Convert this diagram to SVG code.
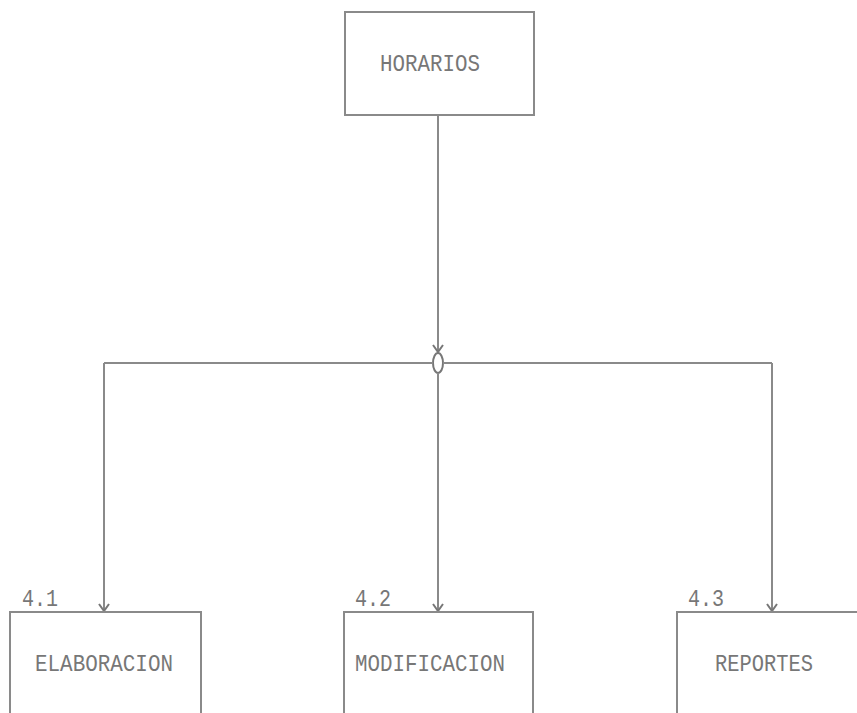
<svg xmlns="http://www.w3.org/2000/svg" width="857" height="713" viewBox="0 0 857 713">
<style>
.box{fill:none;stroke:#8a8a8a;stroke-width:2}
.ln{fill:none;stroke:#8a8a8a;stroke-width:2}
.t{font-family:"Liberation Mono","DejaVu Sans Mono",monospace;font-size:23px;fill:#777777}
</style>
<defs>
<marker id="arr" markerWidth="12" markerHeight="12" refX="10" refY="6" orient="auto" markerUnits="userSpaceOnUse" viewBox="0 0 12 12">
<path d="M3,1 L10,6 L3,11" fill="none" stroke="#777777" stroke-width="2"/>
</marker>
</defs>
<rect width="857" height="713" fill="#fff"/>
<g id="horarios">
<rect class="box" x="345" y="12" width="189" height="103"/>
<text class="t" x="380" y="71" textLength="100" lengthAdjust="spacingAndGlyphs">HORARIOS</text>
</g>
<g id="connectors">
<line class="ln" x1="438" y1="115" x2="438" y2="352" marker-end="url(#arr)"/>
<ellipse cx="438" cy="363" rx="5" ry="10" fill="#fff" stroke="#777777" stroke-width="2"/>
<line class="ln" x1="104" y1="363" x2="433" y2="363"/>
<line class="ln" x1="443" y1="363" x2="772" y2="363"/>
<line class="ln" x1="104" y1="363" x2="104" y2="611" marker-end="url(#arr)"/>
<line class="ln" x1="438" y1="373" x2="438" y2="611" marker-end="url(#arr)"/>
<line class="ln" x1="772" y1="363" x2="772" y2="611" marker-end="url(#arr)"/>
</g>
<g id="elaboracion">
<rect class="box" x="10" y="612" width="191" height="130"/>
<text class="t" x="22" y="606" textLength="36" lengthAdjust="spacingAndGlyphs">4.1</text>
<text class="t" x="35" y="671" textLength="138" lengthAdjust="spacingAndGlyphs">ELABORACION</text>
</g>
<g id="modificacion">
<rect class="box" x="344" y="612" width="189" height="130"/>
<text class="t" x="355" y="606" textLength="36" lengthAdjust="spacingAndGlyphs">4.2</text>
<text class="t" x="355" y="671" textLength="150" lengthAdjust="spacingAndGlyphs">MODIFICACION</text>
</g>
<g id="reportes">
<rect class="box" x="677" y="612" width="200" height="130"/>
<text class="t" x="688" y="606" textLength="36" lengthAdjust="spacingAndGlyphs">4.3</text>
<text class="t" x="715" y="671" textLength="98" lengthAdjust="spacingAndGlyphs">REPORTES</text>
</g>
</svg>
